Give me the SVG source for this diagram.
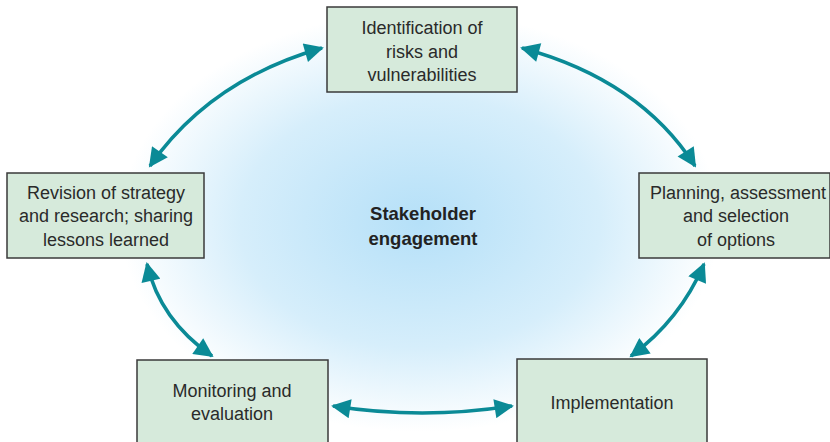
<svg xmlns="http://www.w3.org/2000/svg" width="830" height="442" viewBox="0 0 830 442">
  <defs>
    <radialGradient id="glow" cx="0.5" cy="0.5" r="0.5">
      <stop offset="0" stop-color="#b5e0f8"/>
      <stop offset="0.6" stop-color="#d6eefb"/>
      <stop offset="1" stop-color="#ffffff"/>
    </radialGradient>
    <marker id="head" viewBox="0 0 10 10" refX="9" refY="5" markerWidth="6" markerHeight="5.5" orient="auto-start-reverse" markerUnits="strokeWidth">
      <path d="M0,0 L10,5 L0,10 Z" fill="#0a8a96"/>
    </marker>
    <style>
      .box { fill: #d6eadb; stroke: #3a3a3a; stroke-width: 1.5; }
      .lbl { font-family: "Liberation Sans", Arial, sans-serif; font-size: 18px; fill: #2a2a2a; text-anchor: middle; }
      .hub { font-family: "Liberation Sans", Arial, sans-serif; font-size: 18.5px; font-weight: bold; fill: #222; text-anchor: middle; }
      .link { fill: none; stroke: #0a8a96; stroke-width: 3.5; marker-start: url(#head); marker-end: url(#head); }
    </style>
  </defs>

  <rect width="830" height="442" fill="#ffffff"/>

  <!-- central halo -->
  <ellipse cx="420" cy="222" rx="300" ry="210" fill="url(#glow)"/>
  <g id="hub">
    <text class="hub" x="423" y="220">Stakeholder</text>
    <text class="hub" x="423" y="245">engagement</text>
  </g>

  <!-- connectors -->
  <g id="connectors">
    <path class="link" d="M150,166 Q210,80 322,48"/>
    <path class="link" d="M522,48 Q640,80 695,166"/>
    <path class="link" d="M704,264 Q680,320 631,356"/>
    <path class="link" d="M333,406 Q422,420 512,406"/>
    <path class="link" d="M147,264 Q160,320 212,356"/>
  </g>

  <g id="identification">
    <rect class="box" x="327" y="7" width="190" height="85"/>
    <text class="lbl" x="422" y="34">Identification of</text>
    <text class="lbl" x="422" y="58">risks and</text>
    <text class="lbl" x="422" y="81">vulnerabilities</text>
  </g>

  <g id="planning">
    <rect class="box" x="639" y="173" width="191" height="85"/>
    <text class="lbl" x="738" y="199">Planning, assessment</text>
    <text class="lbl" x="736" y="222">and selection</text>
    <text class="lbl" x="736" y="246">of options</text>
  </g>

  <g id="implementation">
    <rect class="box" x="517" y="359" width="190" height="90"/>
    <text class="lbl" x="612" y="409">Implementation</text>
  </g>

  <g id="monitoring">
    <rect class="box" x="137" y="360" width="191" height="90"/>
    <text class="lbl" x="232" y="397">Monitoring and</text>
    <text class="lbl" x="232" y="420">evaluation</text>
  </g>

  <g id="revision">
    <rect class="box" x="7" y="173" width="197" height="85"/>
    <text class="lbl" x="106" y="199">Revision of strategy</text>
    <text class="lbl" x="106" y="222">and research; sharing</text>
    <text class="lbl" x="106" y="246">lessons learned</text>
  </g>
</svg>
